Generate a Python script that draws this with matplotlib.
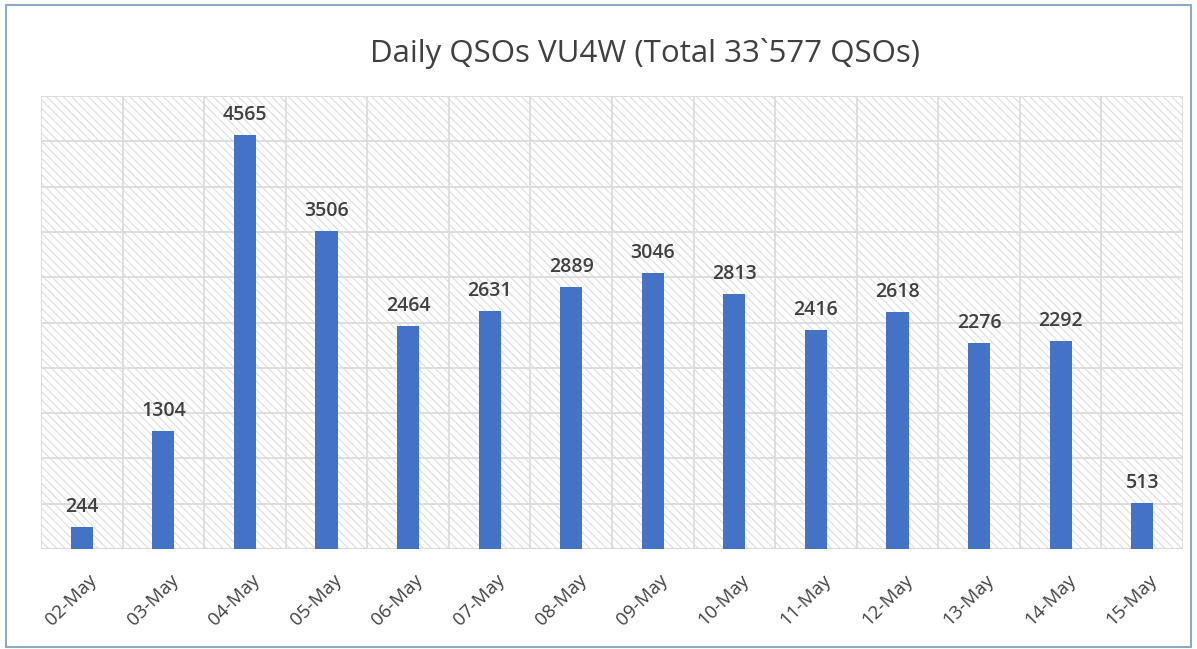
import matplotlib.pyplot as plt
from matplotlib.patches import Rectangle
from matplotlib.transforms import ScaledTranslation

days = ["02-May", "03-May", "04-May", "05-May", "06-May", "07-May", "08-May",
        "09-May", "10-May", "11-May", "12-May", "13-May", "14-May", "15-May"]
qsos = [244, 1304, 4565, 3506, 2464, 2631, 2889, 3046, 2813, 2416, 2618, 2276, 2292, 513]
title = "Daily QSOs VU4W (Total 33`577 QSOs)"

plt.rcParams['font.family'] = ['Open Sans', 'DejaVu Sans']
plt.rcParams['hatch.linewidth'] = 0.8

fig = plt.figure(figsize=(11.97, 6.49), dpi=100)
ax = fig.add_axes([41/1197, 100/649, 1142/1197, 453/649])

# hatched background of the plot area
bg = Rectangle((0, 0), 1, 1, transform=ax.transAxes, facecolor='white',
               edgecolor='#dedede', hatch='\\\\\\\\', linewidth=0, zorder=0)
ax.add_patch(bg)

x = list(range(len(days)))
ax.bar(x, qsos, width=0.27, color='#4472C4', zorder=3)

for i in range(len(qsos)):
    ax.text(x[i], qsos[i] + 110, str(qsos[i]), ha='center', va='bottom',
            fontsize=14, color='#404040', fontweight='semibold', zorder=4)

ax.set_xlim(-0.5, len(days) - 0.5)
ax.set_ylim(0, 5000)

# grid lines
for yv in range(500, 5001, 500):
    ax.axhline(yv, color='#dcdcdc', lw=1.3, zorder=1)
for xv in range(len(days) + 1):
    ax.axvline(xv - 0.5, color='#dcdcdc', lw=1.3, zorder=1)
ax.axhline(0, color='#d9d9d9', lw=1.5, zorder=2)

for s in ax.spines.values():
    s.set_visible(False)

ax.set_yticks([])
ax.set_xticks(x)
ax.set_xticklabels(days, rotation=45, ha='right', rotation_mode='anchor',
                   fontsize=13.5, color='#404040')
ax.tick_params(axis='x', length=0, pad=16)
shift = ScaledTranslation(6/100, 0, fig.dpi_scale_trans)
for lab in ax.get_xticklabels():
    lab.set_transform(lab.get_transform() + shift)

fig.text(0.539, 0.918, title, ha='center', va='center', fontsize=22.5, color='#404040')

# outer border
fig.patches.append(Rectangle((6/1197, 2/649), 1185/1197, 642/649, transform=fig.transFigure,
                             fill=False, edgecolor='#8ea9c8', lw=1.5))

fig.savefig("out.png", dpi=100)
